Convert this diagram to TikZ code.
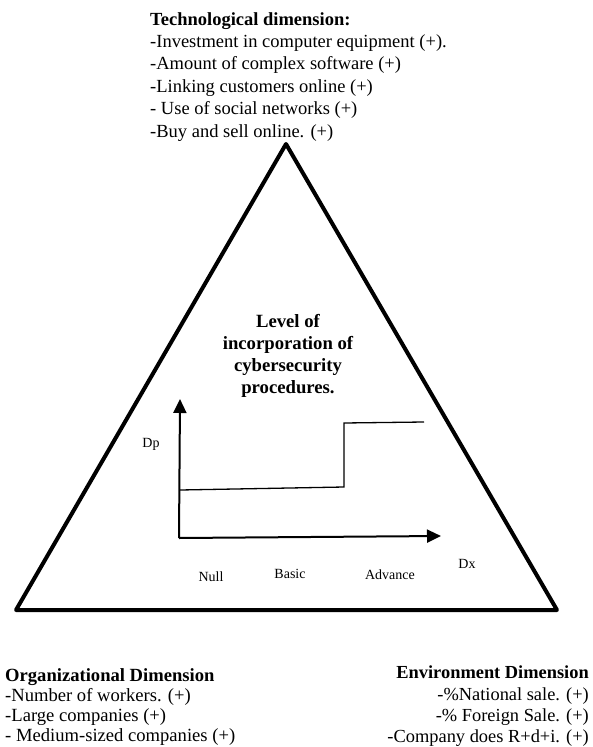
\documentclass[tikz,border=0pt]{standalone}
\usepackage{fontspec}
\setmainfont{Liberation Serif}
\usetikzlibrary{arrows.meta}
\begin{document}
\begin{tikzpicture}[x=1pt,y=-1pt,
  dimtext/.style={inner sep=0pt,align=left},
  smalllab/.style={inner sep=0pt,font=\fontsize{14}{16}\selectfont},
  tri/.style={line width=4pt,line join=round},
  axis/.style={line width=2pt,-{Triangle[length=14pt,width=13pt]}},
  stepline/.style={line width=1.3pt}]
\useasboundingbox (0,0) rectangle (592,747);
% triangle
\coordinate (apex) at (286,144);
\coordinate (bl) at (16,610);
\coordinate (br) at (557,610);
\draw[tri] (apex) -- (br) -- (bl) -- cycle;
% top text
\node[dimtext,anchor=north west,font=\fontsize{18.5}{22.4}\selectfont] (tech) at (150,12) {\textbf{Technological dimension:}\\
-Investment in computer equipment (+).\\
-Amount of complex software (+)\\
-Linking customers online (+)\\
- Use of social networks (+)\\
-Buy and sell online. (+)};
% center title
\node[dimtext,align=center,anchor=north,font=\bfseries\fontsize{18.7}{22}\selectfont] (title) at (288,314) {Level of\\incorporation of\\cybersecurity\\procedures.};
% axes
\coordinate (o) at (179,538);
\coordinate (ytop) at (180,399);
\coordinate (xend) at (441,536);
\draw[axis] (o) -- (ytop);
\draw[axis] (o) -- (xend);
% step
\coordinate (s0) at (180,490);
\coordinate (s1) at (344,487);
\coordinate (s2) at (344,423);
\coordinate (s3) at (424,422);
\draw[stepline] (s0) -- (s1) -- (s2) -- (s3);
% labels
\node[smalllab] (dp) at (151,444) {Dp};
\node[smalllab] (dx) at (467,564) {Dx};
\node[smalllab] (null) at (211,577) {Null};
\node[smalllab] (basic) at (290,574) {Basic};
\node[smalllab] (adv) at (390,575) {Advance};
% bottom left
\node[dimtext,anchor=north west,font=\fontsize{18.6}{20}\selectfont] (org) at (5,668) {\textbf{Organizational Dimension}\\
-Number of workers. (+)\\
-Large companies (+)\\
- Medium-sized companies (+)};
% bottom right
\node[dimtext,anchor=north east,align=right,font=\fontsize{18.4}{21.3}\selectfont] (env) at (589,666) {\textbf{Environment Dimension}\\
-\%National sale. (+)\\
-\% Foreign Sale. (+)\\
-Company does R+d+i. (+)};
\end{tikzpicture}
\end{document}
